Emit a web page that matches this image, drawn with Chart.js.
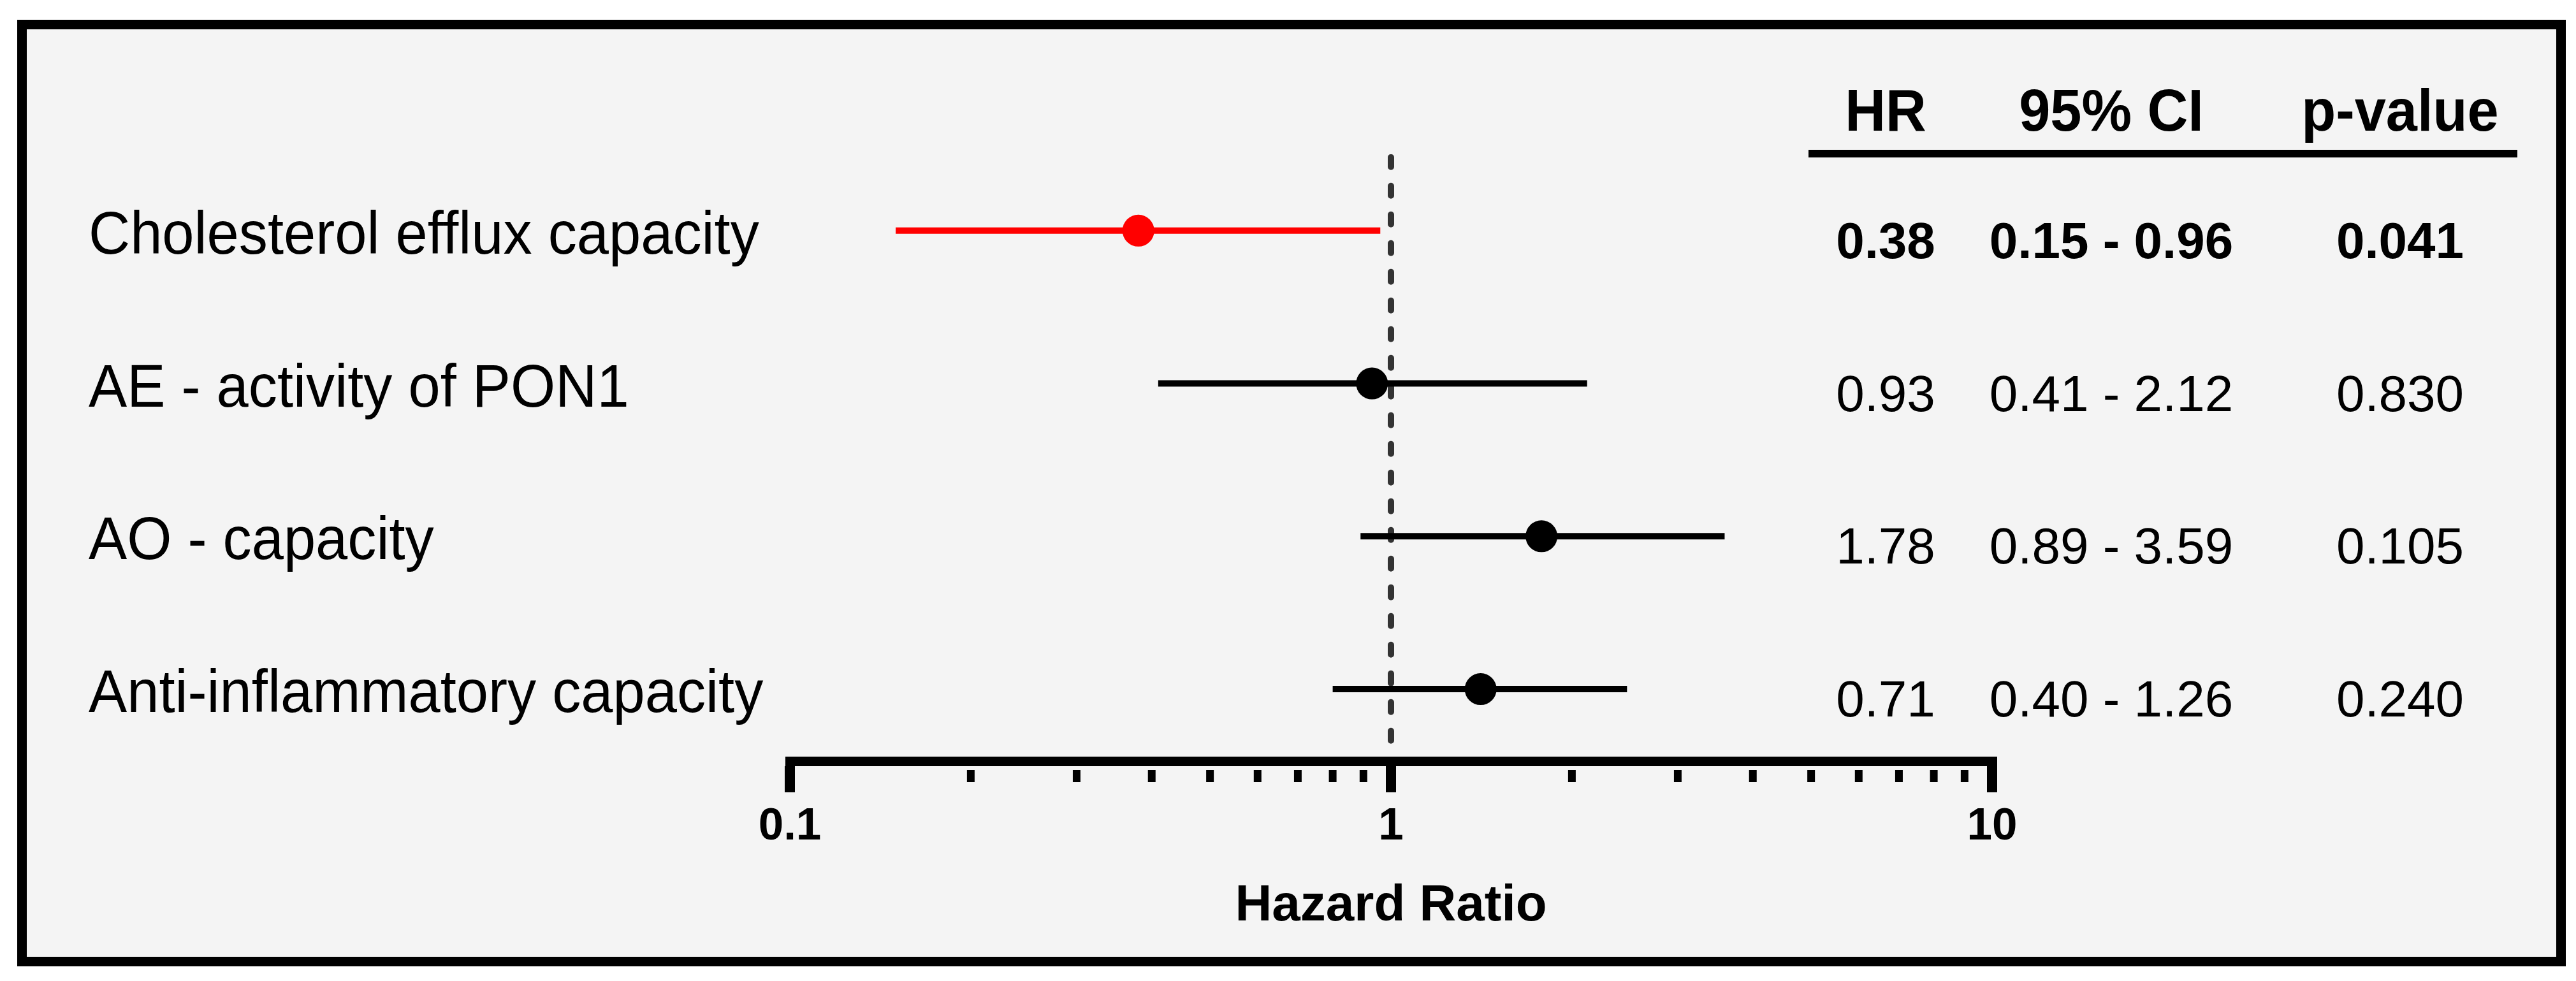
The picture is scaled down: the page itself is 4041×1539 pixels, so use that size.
<!DOCTYPE html>
<html>
<head>
<meta charset="utf-8">
<title>Hazard ratio forest plot</title>
<script src="https://cdn.jsdelivr.net/npm/chart.js@4.4.0/dist/chart.umd.min.js"></script>
<style>
  html, body { margin: 0; padding: 0; background: #fff; }
  body { width: 4041px; height: 1539px; position: relative; overflow: hidden; }
  #frame { position: absolute; left: 27px; top: 31px; width: 3968px; height: 1455px; border: 15px solid #000; background: #f4f4f4; }
  #forest { position: absolute; left: 0; top: 0; }
</style>
</head>
<body>
<div id="frame"></div>
<canvas id="forest" width="4041" height="1539"></canvas>
<script>
// Data
const rowLabels = ['Cholesterol efflux capacity', 'AE - activity of PON1', 'AO - capacity', 'Anti-inflammatory capacity'];
const hazardRatios = [0.38, 0.93, 1.78, 1.41];
const ciLower = [0.15, 0.41, 0.89, 0.80];
const ciUpper = [0.96, 2.12, 3.59, 2.47];

// Table columns on the right
const tableHeaders = ['HR', '95% CI', 'p-value'];
const hrText = ['0.38', '0.93', '1.78', '0.71'];
const ciText = ['0.15 - 0.96', '0.41 - 2.12', '0.89 - 3.59', '0.40 - 1.26'];
const pText = ['0.041', '0.830', '0.105', '0.240'];

// Axis ticks
const majorTicks = [0.1, 1, 10];
const minorTicks = [0.2, 0.3, 0.4, 0.5, 0.6, 0.7, 0.8, 0.9, 2, 3, 4, 5, 6, 7, 8, 9];

const FONT = "'Liberation Sans', Arial, Helvetica, sans-serif";
const colCenters = [2958, 3312, 3765];

const isSignificant = i => parseFloat(pText[i]) < 0.05;
const rowColor = i => isSignificant(i) ? '#ff0000' : '#000000';

// text in the figure is a little narrower than Arial
function fillNarrow(ctx, text, x, y, sx) {
    ctx.save();
    ctx.translate(x, y);
    ctx.scale(sx, 1);
    ctx.fillText(text, 0, 0);
    ctx.restore();
}

// minor ticks, row labels and the table
const forestExtras = {
    id: 'forestExtras',
    afterDraw(chart) {
        const ctx = chart.ctx;
        const xScale = chart.scales.x;
        const yScale = chart.scales.y;
        ctx.save();

        ctx.strokeStyle = '#000';
        ctx.lineWidth = 12;
        minorTicks.forEach(v => {
            const px = xScale.getPixelForValue(v);
            ctx.beginPath();
            ctx.moveTo(px, xScale.top + 14);
            ctx.lineTo(px, xScale.top + 33);
            ctx.stroke();
        });

        ctx.fillStyle = '#000';
        ctx.textBaseline = 'alphabetic';
        ctx.textAlign = 'left';
        ctx.font = `95px ${FONT}`;
        rowLabels.forEach((t, i) => {
            fillNarrow(ctx, t, 139, yScale.getPixelForValue(i) + 36, 0.95);
        });

        ctx.textAlign = 'center';
        ctx.font = `bold 93px ${FONT}`;
        tableHeaders.forEach((t, j) => fillNarrow(ctx, t, colCenters[j], 205, 0.95));
        ctx.fillRect(2837, 235, 1112, 12);

        rowLabels.forEach((_, i) => {
            ctx.font = `${isSignificant(i) ? 'bold ' : ''}80px ${FONT}`;
            const by = yScale.getPixelForValue(i) + 43;
            [hrText[i], ciText[i], pText[i]].forEach((t, j) => ctx.fillText(t, colCenters[j], by));
        });

        ctx.restore();
    }
};

const pointDataset = {
    label: 'HR',
    data: hazardRatios.map((v, i) => ({ x: v, y: i })),
    pointRadius: 25,
    pointBackgroundColor: rowLabels.map((_, i) => rowColor(i)),
    pointBorderWidth: 0,
    showLine: false,
    order: 0
};

const ciDatasets = rowLabels.map((label, i) => ({
    label: label + ' 95% CI',
    data: [{ x: ciLower[i], y: i }, { x: ciUpper[i], y: i }],
    showLine: true,
    borderColor: rowColor(i),
    borderWidth: 10,
    pointRadius: 0,
    order: 1
}));

const refDataset = {
    label: 'HR = 1',
    data: [{ x: 1, y: -0.48 }, { x: 1, y: 3.4 }],
    showLine: true,
    borderColor: '#333333',
    borderWidth: 10,
    borderDash: [15, 30],
    borderCapStyle: 'round',
    pointRadius: 0,
    order: 2
};

new Chart(document.getElementById('forest'), {
    type: 'scatter',
    data: {
        datasets: [pointDataset, ...ciDatasets, refDataset]
    },
    options: {
        responsive: false,
        animation: false,
        events: [],
        layout: {
            padding: { left: 1239, right: 916, top: 242, bottom: 45 }
        },
        plugins: {
            legend: { display: false },
            tooltip: { enabled: false }
        },
        scales: {
            x: {
                type: 'logarithmic',
                position: 'bottom',
                min: 0.1,
                max: 10,
                afterBuildTicks: scale => {
                    scale.ticks = majorTicks.map(v => ({ value: v }));
                },
                afterFit: scale => {
                    scale.height = 300;
                },
                border: { display: true, width: 15, color: '#000' },
                grid: {
                    drawOnChartArea: false,
                    drawTicks: true,
                    tickLength: 49,
                    lineWidth: 16,
                    tickWidth: 16,
                    tickColor: '#000'
                },
                ticks: {
                    autoSkip: false,
                    maxRotation: 0,
                    padding: 12,
                    color: '#000',
                    font: { family: FONT, size: 71, weight: 'bold' },
                    callback: v => String(v)
                },
                title: {
                    display: true,
                    text: 'Hazard Ratio',
                    color: '#000',
                    font: { family: FONT, size: 80, weight: 'bold' },
                    padding: { top: 0, bottom: 24 }
                }
            },
            y: {
                type: 'linear',
                min: -0.5,
                max: 3.471,
                reverse: true,
                display: false
            }
        }
    },
    plugins: [forestExtras]
});
</script>
</body>
</html>
